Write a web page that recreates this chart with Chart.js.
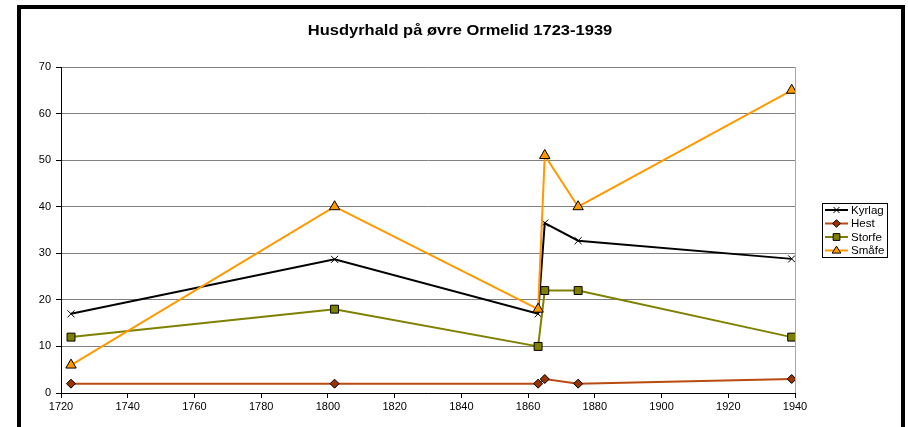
<!DOCTYPE html>
<html>
<head>
<meta charset="utf-8">
<script src="https://cdn.jsdelivr.net/npm/chart.js@4/dist/chart.umd.min.js"></script>
<style>
  html, body { margin: 0; padding: 0; background: #fff; }
  #wrap { position: relative; width: 908px; height: 427px; overflow: hidden; }
  #chart { position: absolute; left: 0; top: 0; }
  #frame {
    position: absolute; left: 17px; top: 5px; width: 888px; height: 450px;
    border: 4px solid #000; box-sizing: border-box; pointer-events: none;
  }
</style>
</head>
<body>
<div id="wrap">
  <canvas id="chart" width="908" height="427"></canvas>
  <div id="frame"></div>
</div>
<script>
const chartTitle = "Husdyrhald på øvre Ormelid 1723-1939";
const years = [1723, 1802, 1863, 1865, 1875, 1939];
const kyrlag = [17, 28.7, 17, 36.5, 32.7, 28.8];
const hest = [2, 2, 2, 3, 2, 3];
const storfe = [12, 18, 10, 22, 22, 12];
const smafe = [6, 40, 18, 51, 40, 65];
const seriesNames = ["Kyrlag", "Hest", "Storfe", "Småfe"];

const FONT = "'Liberation Sans', Arial, sans-serif";

function toPoints(values) {
  return years.map((y, i) => ({ x: y, y: values[i] }));
}

const datasets = [
  {
    label: seriesNames[0],
    data: toPoints(kyrlag),
    borderColor: "#000000",
    pointStyle: "crossRot",
    pointRadius: 5,
    pointBorderColor: "#000000",
    pointBorderWidth: 1,
    order: 4,
  },
  {
    label: seriesNames[1],
    data: toPoints(hest),
    borderColor: "#BA4A10",
    pointStyle: "rectRot",
    pointRadius: 4.5,
    pointBackgroundColor: "#993300",
    pointBorderColor: "#000000",
    pointBorderWidth: 1,
    order: 3,
  },
  {
    label: seriesNames[2],
    data: toPoints(storfe),
    borderColor: "#808000",
    pointStyle: "rect",
    pointRadius: 5.6,
    pointBackgroundColor: "#808000",
    pointBorderColor: "#000000",
    pointBorderWidth: 1,
    order: 2,
  },
  {
    label: seriesNames[3],
    data: toPoints(smafe),
    borderColor: "#FF9900",
    pointStyle: "triangle",
    pointRadius: 6,
    pointBackgroundColor: "#FF9900",
    pointBorderColor: "#000000",
    pointBorderWidth: 1,
    order: 1,
  },
];

// legend marker drawing (same shapes as the series)
function drawMarker(ctx, ds, x, y) {
  ctx.save();
  ctx.lineWidth = 1;
  ctx.strokeStyle = ds.pointBorderColor;
  ctx.fillStyle = ds.pointBackgroundColor || ds.borderColor;
  const r = ds.pointRadius;
  ctx.beginPath();
  if (ds.pointStyle === "crossRot") {
    const d = r * Math.SQRT1_2;
    ctx.moveTo(x - d, y - d); ctx.lineTo(x + d, y + d);
    ctx.moveTo(x + d, y - d); ctx.lineTo(x - d, y + d);
    ctx.stroke();
  } else if (ds.pointStyle === "rectRot") {
    ctx.moveTo(x - r, y); ctx.lineTo(x, y - r); ctx.lineTo(x + r, y); ctx.lineTo(x, y + r);
    ctx.closePath(); ctx.fill(); ctx.stroke();
  } else if (ds.pointStyle === "rect") {
    const s = r * Math.SQRT1_2;
    ctx.rect(x - s, y - s, 2 * s, 2 * s);
    ctx.fill(); ctx.stroke();
  } else if (ds.pointStyle === "triangle") {
    const h = r * 0.85;
    ctx.moveTo(x, y - h); ctx.lineTo(x + h, y + h * 0.6); ctx.lineTo(x - h, y + h * 0.6);
    ctx.closePath(); ctx.fill(); ctx.stroke();
  }
  ctx.restore();
}

// text is a bit wider in the original, so stretch it horizontally
function wideText(ctx, text, x, y, sx) {
  ctx.save();
  ctx.translate(x, y);
  ctx.scale(sx, 1);
  ctx.fillText(text, 0, 0);
  ctx.restore();
}

const decorPlugin = {
  id: "decor",
  afterDraw(chart) {
    const ctx = chart.ctx;
    ctx.save();
    // title
    ctx.fillStyle = "#000";
    ctx.font = "bold 15px " + FONT;
    ctx.textAlign = "center";
    ctx.textBaseline = "middle";
    wideText(ctx, chartTitle, 460, 31, 1.1);

    // legend box
    const bx = 822, by = 203, bw = 65, bh = 54;
    ctx.strokeStyle = "#000";
    ctx.lineWidth = 1;
    ctx.strokeRect(bx + 0.5, by + 0.5, bw, bh);
    ctx.font = "11px " + FONT;
    ctx.textAlign = "left";
    const rowY = [210, 223.5, 237, 250.5];
    datasets.forEach((ds, i) => {
      const y = rowY[i];
      ctx.strokeStyle = ds.borderColor;
      ctx.lineWidth = 2;
      ctx.beginPath();
      ctx.moveTo(bx + 3, y);
      ctx.lineTo(bx + 26, y);
      ctx.stroke();
      const small = Object.assign({}, ds, { pointRadius: ds.pointRadius * 0.85 });
      drawMarker(ctx, small, bx + 14.5, y);
      ctx.fillStyle = "#000";
      wideText(ctx, ds.label, bx + 29, y + 0.5, 1.05);
    });
    ctx.restore();
  },
};

new Chart(document.getElementById("chart"), {
  type: "line",
  data: {
    datasets: datasets.map((ds) => ({
      ...ds,
      borderWidth: 2,
      tension: 0,
      fill: false,
    })),
  },
  options: {
    responsive: false,
    animation: false,
    layout: { padding: { top: 67, right: 113, left: 0, bottom: 0 } },
    plugins: {
      legend: { display: false },
      title: { display: false },
      tooltip: { enabled: false },
    },
    scales: {
      x: {
        type: "linear",
        min: 1720,
        max: 1940,
        afterFit: (scale) => { scale.height = 34; },
        ticks: {
          stepSize: 20,
          color: "#000",
          font: { size: 11, family: FONT },
          padding: 2,
          maxRotation: 0,
          callback: (v) => String(v),
        },
        grid: {
          color: (c) => (c.tick && c.tick.value === 1940 ? "#a8a8a8" : "rgba(0,0,0,0)"),
          tickColor: "#000",
          tickLength: 5,
          drawTicks: true,
        },
        border: { color: "#000", width: 1 },
      },
      y: {
        min: 0,
        max: 70,
        afterFit: (scale) => { scale.width = 61; },
        ticks: {
          stepSize: 10,
          color: "#000",
          font: { size: 11, family: FONT },
          padding: 5,
        },
        grid: {
          color: "#808080",
          tickColor: "#000",
          tickLength: 5,
        },
        border: { color: "#000", width: 1 },
      },
    },
  },
  plugins: [decorPlugin],
});
</script>
</body>
</html>
